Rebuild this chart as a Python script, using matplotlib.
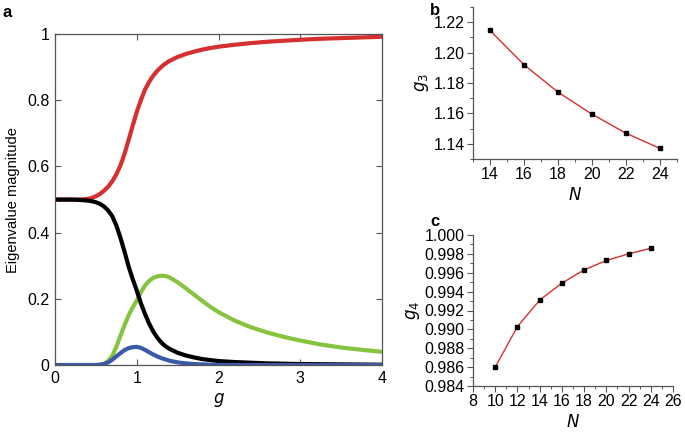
import matplotlib
matplotlib.use("Agg")
import matplotlib.pyplot as plt
from matplotlib.ticker import MultipleLocator

plt.rcParams['font.family'] = ['Liberation Sans', 'DejaVu Sans']

# ---- panel a data ----
g = [0.0, 0.1, 0.2, 0.3, 0.4, 0.45, 0.5, 0.55, 0.6, 0.65, 0.7, 0.75, 0.8,
     0.85, 0.9, 0.95, 1.0, 1.05, 1.1, 1.15, 1.2, 1.25, 1.3, 1.35, 1.4, 1.5,
     1.6, 1.7, 1.8, 1.9, 2.0, 2.2, 2.4, 2.6, 2.8, 3.0, 3.25, 3.5, 3.75, 4.0]
red = [0.5, 0.5, 0.5, 0.5, 0.502, 0.505, 0.51, 0.517, 0.527, 0.539, 0.555,
       0.576, 0.603, 0.638, 0.68, 0.723, 0.765, 0.8, 0.832, 0.855, 0.874,
       0.889, 0.901, 0.911, 0.919, 0.931, 0.94, 0.947, 0.953, 0.958, 0.962,
       0.968, 0.973, 0.977, 0.98, 0.983, 0.986, 0.988, 0.990, 0.992]
black = [0.5, 0.5, 0.5, 0.499, 0.497, 0.495, 0.492, 0.487, 0.479, 0.467,
         0.45, 0.422, 0.385, 0.343, 0.298, 0.26, 0.225, 0.187, 0.155, 0.126,
         0.102, 0.083, 0.068, 0.057, 0.049, 0.037, 0.029, 0.023, 0.018,
         0.015, 0.012, 0.009, 0.007, 0.005, 0.004, 0.003, 0.0025, 0.002,
         0.0015, 0.001]
green = [0.0, 0.0, 0.0, 0.0, 0.0, 0.0, 0.0, 0.001, 0.004, 0.012, 0.028,
         0.055, 0.088, 0.12, 0.15, 0.174, 0.195, 0.22, 0.24, 0.254, 0.263,
         0.268, 0.27, 0.269, 0.265, 0.25, 0.232, 0.213, 0.194, 0.176, 0.16,
         0.134, 0.114, 0.098, 0.085, 0.074, 0.062, 0.053, 0.046, 0.04]
blue = [0.0, 0.0, 0.0, 0.0, 0.0, 0.0, 0.0, 0.001, 0.003, 0.008, 0.016,
        0.026, 0.036, 0.045, 0.051, 0.054, 0.055, 0.052, 0.046, 0.039,
        0.032, 0.026, 0.021, 0.017, 0.013, 0.008, 0.005, 0.003, 0.002,
        0.001, 0.0005, 0.0, 0.0, 0.0, 0.0, 0.0, 0.0, 0.0, 0.0, 0.0]

# ---- panel b data ----
N_b = [14, 16, 18, 20, 22, 24]
g3 = [1.2145, 1.192, 1.174, 1.1595, 1.147, 1.137]

# ---- panel c data ----
N_c = [10, 12, 14, 16, 18, 20, 22, 24]
g4 = [0.986, 0.9903, 0.9931, 0.9949, 0.9963, 0.9973, 0.9980, 0.9986]

fig = plt.figure(figsize=(6.85, 4.32), dpi=100)

# Panel a
axa = fig.add_axes([0.0803, 0.155, 0.4774, 0.766])
kw = dict(lw=3.0, solid_capstyle='butt', solid_joinstyle='round')
axa.plot(g, red, color='#d62f2f', **kw)
axa.plot(g, green, color='#86c440', **kw)
axa.plot(g, black, color='black', **kw)
axa.plot(g, blue, color='#3a59a8', **kw)
axa.set_xlim(0, 4)
axa.set_ylim(0, 1)
axa.set_xticks([0, 1, 2, 3, 4])
axa.set_yticks([0, 0.2, 0.4, 0.6, 0.8, 1])
axa.set_yticklabels(['0', '0.2', '0.4', '0.6', '0.8', '1'])
axa.tick_params(direction='in', top=True, right=True, length=4, width=0.8,
                labelsize=11.5, color='#555555', pad=4)
for s in axa.spines.values():
    s.set_color('#555555')
    s.set_linewidth(0.9)
axa.set_xlabel('$g$', fontsize=12, labelpad=4)
axa.set_ylabel('Eigenvalue magnitude', fontsize=10.5, labelpad=5)

def style_small(ax):
    ax.spines['top'].set_visible(False)
    ax.spines['right'].set_visible(False)
    for s in ('left', 'bottom'):
        ax.spines[s].set_color('#555555')
        ax.spines[s].set_linewidth(0.9)
    ax.tick_params(which='major', direction='out', length=4, width=0.8,
                   labelsize=11.5, color='#555555', pad=2)
    ax.tick_params(which='minor', direction='out', length=2, width=0.7,
                   color='#555555')

# Panel b
axb = fig.add_axes([0.6905, 0.632, 0.2975, 0.352])
axb.plot(N_b, g3, color='#d62f2f', lw=1.0, marker='s', ms=3,
         mfc='black', mec='black')
axb.set_xlim(13, 25)
axb.set_ylim(1.13, 1.23)
axb.set_xticks([14, 16, 18, 20, 22, 24])
axb.set_yticks([1.14, 1.16, 1.18, 1.20, 1.22])
axb.set_yticklabels(['1.14', '1.16', '1.18', '1.20', '1.22'])
axb.xaxis.set_minor_locator(MultipleLocator(1))
axb.yaxis.set_minor_locator(MultipleLocator(0.01))
style_small(axb)
axb.set_xlabel('$N$', fontsize=12, labelpad=3)
axb.set_ylabel('$g_3$', fontsize=12, labelpad=2)

# Panel c
axc = fig.add_axes([0.6905, 0.1065, 0.292, 0.3495])
axc.plot(N_c, g4, color='#d62f2f', lw=1.0, marker='s', ms=3,
         mfc='black', mec='black')
axc.set_xlim(8, 26)
axc.set_ylim(0.984, 1.000)
axc.set_xticks(list(range(8, 27, 2)))
axc.set_yticks([0.984, 0.986, 0.988, 0.990, 0.992, 0.994, 0.996, 0.998, 1.000])
axc.set_yticklabels(['0.984', '0.986', '0.988', '0.990', '0.992', '0.994',
                     '0.996', '0.998', '1.000'])
axc.xaxis.set_minor_locator(MultipleLocator(1))
axc.yaxis.set_minor_locator(MultipleLocator(0.001))
style_small(axc)
axc.set_xlabel('$N$', fontsize=12, labelpad=3)
axc.set_ylabel('$g_4$', fontsize=12, labelpad=2)

fig.text(0.003, 0.972, 'a', fontsize=12, fontweight='bold', va='center')
fig.text(0.628, 0.975, 'b', fontsize=12, fontweight='bold', va='center')
fig.text(0.628, 0.488, 'c', fontsize=12, fontweight='bold', va='center')

fig.savefig('out.png', dpi=100)
